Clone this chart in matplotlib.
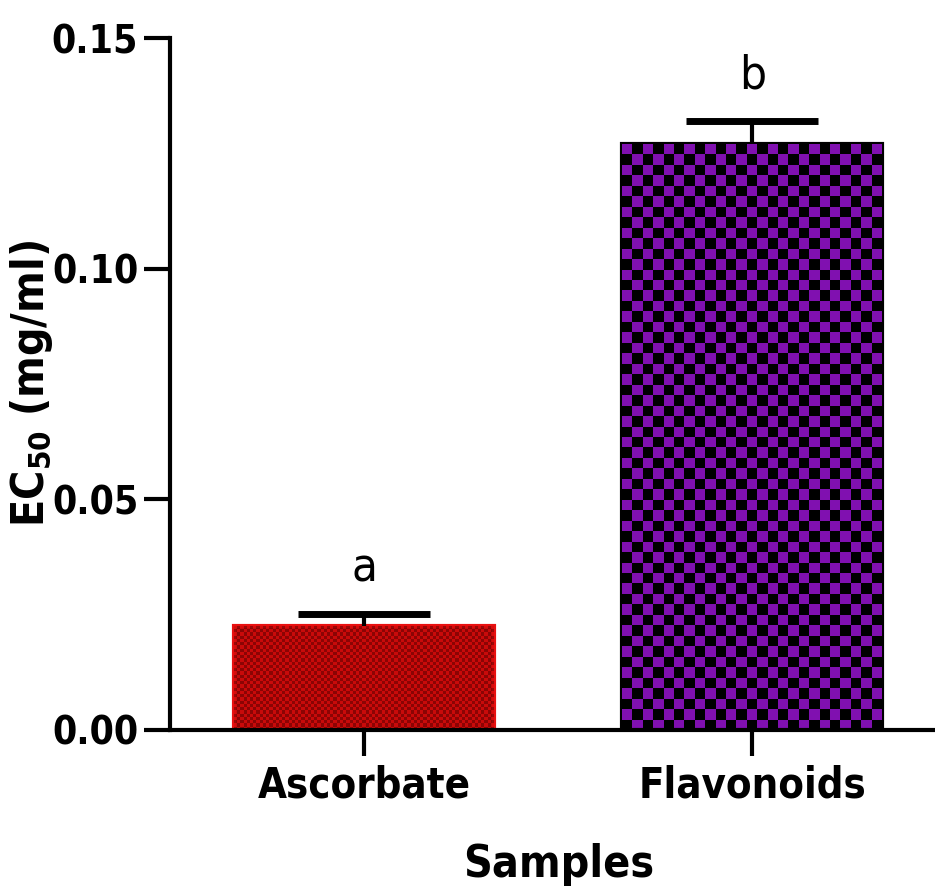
import numpy as np
import matplotlib
matplotlib.use("Agg")
import matplotlib.pyplot as plt
from matplotlib import font_manager
from matplotlib.colors import ListedColormap

installed = {f.name for f in font_manager.fontManager.ttflist}
if "Liberation Sans Narrow" in installed:
    plt.rcParams['font.family'] = ['Liberation Sans Narrow', 'DejaVu Sans']
else:
    plt.rcParams['font.family'] = ['DejaVu Sans']
    plt.rcParams['font.stretch'] = 'condensed'
plt.rcParams['font.weight'] = 'bold'
plt.rcParams['axes.labelweight'] = 'bold'
plt.rcParams['mathtext.default'] = 'bf'

samples = ["Ascorbate", "Flavonoids"]
ec50 = [0.0225, 0.127]
sem = [0.0025, 0.005]
letters = ["a", "b"]
yticks = [0.00, 0.05, 0.10, 0.15]

W, H = 9.35, 8.91
fig = plt.figure(figsize=(W, H), dpi=100)
rect = [0.182, 0.181, 0.83, 0.776]
ax = fig.add_axes(rect)
xlim = (-0.5, 1.5)
ylim = (0, 0.15)

x = np.arange(len(samples))
bars = ax.bar(x, ec50, width=0.67, color=["#c80a0a", "#8010b0"],
              edgecolor=["#e81010", "black"], linewidth=3, zorder=2)
ax.vlines(x, ec50, np.add(ec50, sem), color="black", linewidth=3, zorder=3)
ax.hlines(np.add(ec50, sem), x - 0.17, x + 0.17, color="black", linewidth=5,
          zorder=3)

# checker texture inside bars (check size in pixels)
px_x = rect[2] * W * 100 / (xlim[1] - xlim[0])
px_y = rect[3] * H * 100 / (ylim[1] - ylim[0])
textures = [("#5a0000", 0.55, 3.2), ("#000000", 1.0, 10.5)]
for b, (dark, alpha, size) in zip(bars, textures):
    x0, w, h = b.get_x(), b.get_width(), b.get_height()
    nx = max(int(round(w * px_x / size)), 1)
    ny = max(int(round(h * px_y / size)), 1)
    g = np.indices((ny, nx)).sum(axis=0) % 2
    cmap = ListedColormap([b.get_facecolor()[:3], dark])
    im = ax.imshow(g, cmap=cmap, extent=(x0, x0 + w, 0, h), aspect="auto",
                   interpolation="nearest", alpha=alpha, zorder=2.5)
    im.set_clip_path(b)

for xi, v, s, t in zip(x, ec50, sem, letters):
    ax.text(xi, v + s + 0.005, t, ha="center", va="bottom", fontsize=34,
            fontweight="normal")

ax.set_xlim(*xlim)
ax.set_ylim(*ylim)
ax.set_yticks(yticks)
ax.set_yticklabels(["%.2f" % v for v in yticks])
ax.set_xticks(x)
ax.set_xticklabels(samples)
for s in ["top", "right"]:
    ax.spines[s].set_visible(False)
for s in ["left", "bottom"]:
    ax.spines[s].set_linewidth(3)
ax.tick_params(axis="both", width=3, length=19, labelsize=28)
ax.tick_params(axis="y", pad=4)
ax.tick_params(axis="x", pad=6, labelsize=30)
ax.set_xlabel("Samples", fontsize=32, labelpad=26)
ax.set_ylabel("EC$_{50}$ (mg/ml)", fontsize=32)
ax.yaxis.set_label_coords(-0.148, 0.5)

fig.savefig("out.png", dpi=100)
